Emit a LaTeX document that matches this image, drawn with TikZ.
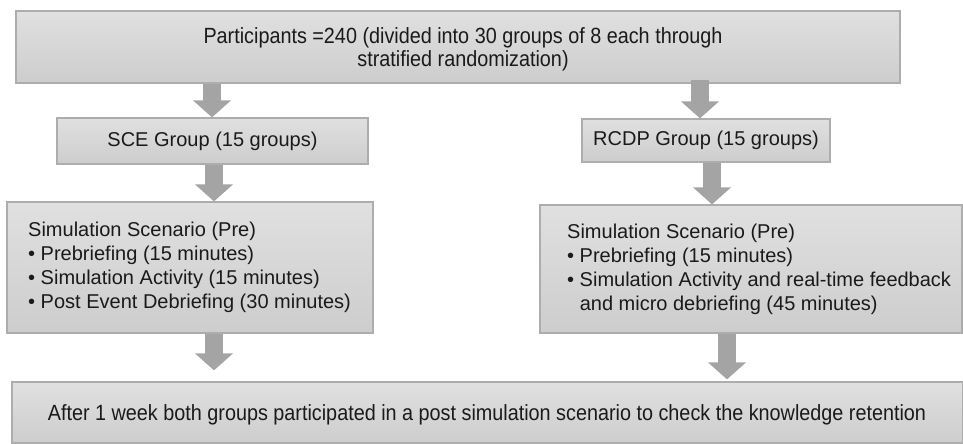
\documentclass[tikz,border=0pt]{standalone}
\usepackage{fontspec}
\setmainfont{Liberation Sans}
\newfontfamily\narrowfont[FakeStretch=0.9]{Liberation Sans}
\usetikzlibrary{arrows.meta}
\definecolor{boxtop}{HTML}{E0E0E0}
\definecolor{boxbot}{HTML}{CDCDCD}
\definecolor{boxline}{HTML}{ADADAD}
\definecolor{arrowgray}{HTML}{A4A4A4}
\definecolor{txt}{HTML}{1A1A1A}
\tikzset{
  box/.style={draw=boxline, line width=1.2pt, top color=boxtop, bottom color=boxbot,
    rectangle, inner sep=0pt, text=txt, font=\fontsize{20}{24}\selectfont},
  boxtext/.style={inner sep=0pt, text=txt, font=\fontsize{20}{24}\selectfont},
  blockarrow/.style={line width=18pt, draw=arrowgray,
    -{Triangle[length=17pt,width=37pt,fill=arrowgray]}},
}
\begin{document}
\begin{tikzpicture}[x=1pt,y=-1pt]
\useasboundingbox (0,0) rectangle (963,444);
% boxes
\node[box, minimum width=884pt, minimum height=72pt] (top) at (458,47) {};
\node[boxtext, align=center, font=\narrowfont\fontsize{22}{23}\selectfont] (toptext) at (463,49)
  {Participants =240 (divided into 30 groups of 8 each through\\stratified randomization)};
\node[box, minimum width=311pt, minimum height=46pt] (sce) at (212.5,141) {SCE Group (15 groups)};
\node[box, minimum width=248pt, minimum height=43pt] (rcdp) at (706,140.5) {RCDP Group (15 groups)};
\node[box, minimum width=366pt, minimum height=131pt] (simL) at (190,267.5) {};
\node[boxtext, anchor=north west, align=left] (simLtext) at (28,222)
  {Simulation Scenario (Pre)\\
   \textbullet\ Prebriefing (15 minutes)\\
   \textbullet\ Simulation Activity (15 minutes)\\
   \textbullet\ Post Event Debriefing (30 minutes)};
\node[box, minimum width=422pt, minimum height=128pt] (simR) at (751,269) {};
\node[boxtext, anchor=north west, align=left] (simRtext) at (567,224)
  {Simulation Scenario (Pre)\\
   \textbullet\ Prebriefing (15 minutes)\\
   \textbullet\ Simulation Activity and real-time feedback\\
   \phantom{\textbullet\ }and micro debriefing (45 minutes)};
\node[box, minimum width=951pt, minimum height=61pt] (bot) at (487.5,412.5) {};
\node[boxtext, font=\narrowfont\fontsize{22}{23}\selectfont] (bottext) at (487,415)
  {After 1 week both groups participated in a post simulation scenario to check the knowledge retention};
% arrows
\draw[blockarrow] (top.south -| 212,0) -- (sce.north -| 212,0);
\draw[blockarrow] ([yshift=4pt]top.south -| 700,0) -- (rcdp.north -| 700,0);
\draw[blockarrow] (sce.south -| 214,0) -- (simL.north -| 214,0);
\draw[blockarrow] (rcdp.south -| 712,0) -- (simR.north -| 712,0);
\draw[blockarrow] (simL.south -| 214,0) -- ([yshift=11pt]bot.north -| 214,0);
\draw[blockarrow] (simR.south -| 727,0) -- ([yshift=2pt]bot.north -| 727,0);
\end{tikzpicture}
\end{document}
